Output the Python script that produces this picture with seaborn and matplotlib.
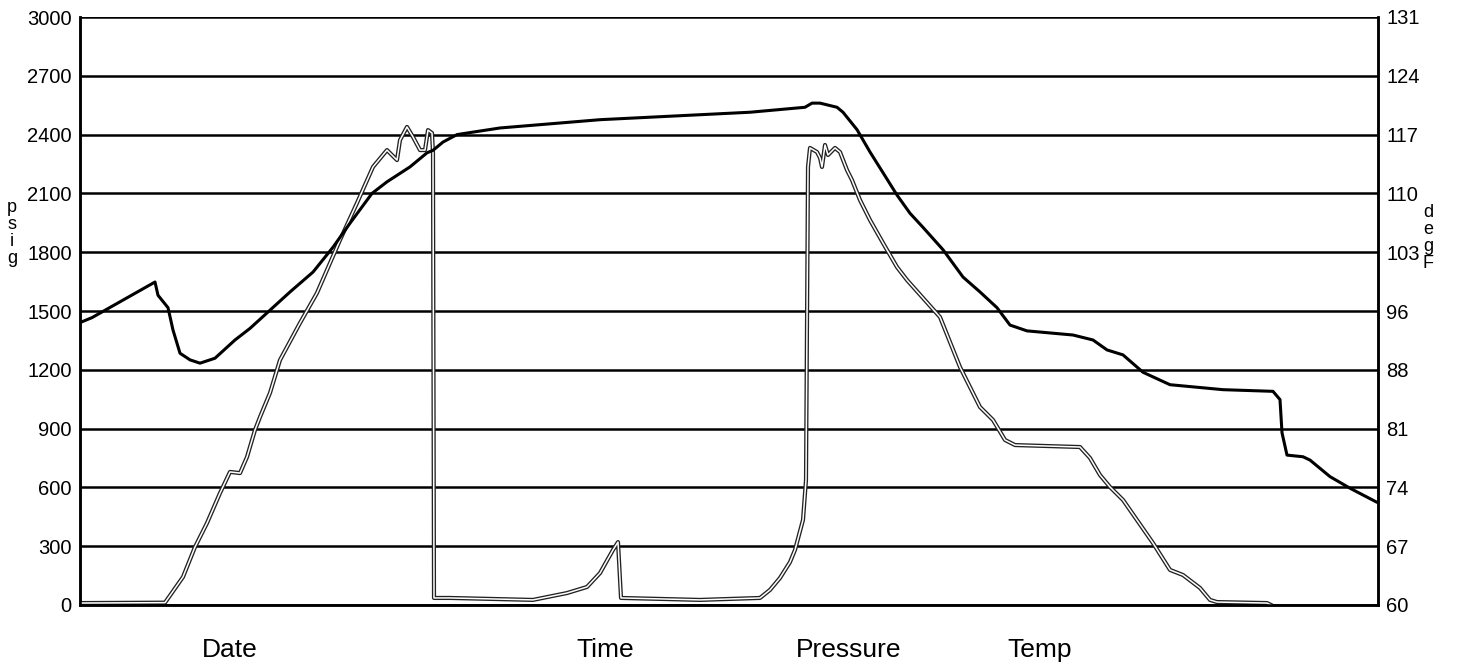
import matplotlib
matplotlib.use("Agg")
import matplotlib.pyplot as plt
import numpy as np
import pandas as pd
import seaborn as sns

# pressure trace (psig, left axis)
p_time = [80, 165, 183, 195, 207, 220, 230, 240, 247, 255, 260, 270, 280, 300, 317,
          340, 357, 373, 387, 397, 400, 407, 413, 420, 425, 428, 432, 433, 434, 450,
          533, 567, 587, 600, 613, 618, 621, 700, 760, 770, 780, 790, 795, 803, 806,
          808, 810, 817, 820, 822, 825, 828, 835, 840, 847, 852, 860, 870, 883, 897,
          907, 940, 960, 980, 993, 1005, 1015, 1080, 1090, 1100, 1110, 1123, 1153,
          1170, 1183, 1200, 1210, 1217, 1267, 1277, 1377]
p_psig = [10, 12, 143, 296, 418, 571, 679, 673, 755, 893, 959, 1082, 1250, 1439, 1592,
          1862, 2051, 2235, 2321, 2270, 2372, 2439, 2388, 2321, 2321, 2423, 2408, 2306, 36, 36,
          26, 61, 92, 163, 281, 321, 36, 26, 36, 77, 138, 219, 281, 434, 638,
          2235, 2332, 2311, 2281, 2235, 2347, 2296, 2332, 2311, 2219, 2168, 2066, 1964, 1847, 1724,
          1658, 1469, 1214, 1010, 944, 842, 816, 806, 750, 663, 602, 536, 316,
          179, 153, 87, 26, 15, 10, -15, -10]

# temperature trace (degF, right axis)
t_time = [80, 92, 155, 158, 168, 173, 180, 190, 200, 215, 235, 250, 270, 290, 313,
          333, 350, 372, 387, 410, 427, 433, 443, 457, 473, 500, 600, 750, 805, 812,
          820, 837, 843, 857, 870, 883, 897, 910, 923, 943, 963, 980, 997, 1010, 1027,
          1073, 1093, 1107, 1123, 1143, 1170, 1223, 1273, 1280, 1282, 1287, 1303, 1310,
          1330, 1350, 1377]
t_degf = [94.1, 94.7, 99.0, 97.4, 95.9, 93.2, 90.4, 89.6, 89.2, 89.8, 92.0, 93.4, 95.6, 97.8, 100.2,
          103.2, 106.1, 109.7, 111.1, 112.9, 114.6, 114.9, 115.9, 116.8, 117.1, 117.6, 118.6, 119.5, 120.1, 120.6,
          120.6, 120.1, 119.5, 117.4, 114.7, 112.2, 109.5, 107.3, 105.6, 102.9, 99.6, 97.8, 95.9, 93.8, 93.1,
          92.6, 92.0, 90.8, 90.2, 88.1, 86.6, 86.0, 85.8, 84.8, 80.8, 78.1, 77.9, 77.5,
          75.5, 74.1, 72.4]

psig_ticks = [0, 300, 600, 900, 1200, 1500, 1800, 2100, 2400, 2700, 3000]
degf_labels = ["60", "67", "74", "81", "88", "96", "103", "110", "117", "124", "131"]
bottom_labels = ["Date", "Time", "Pressure", "Temp"]
bottom_pos = [230, 605, 849, 1040]

sns.set_style("white")
plt.rcParams['font.family'] = ['Liberation Sans', 'DejaVu Sans']
plt.rcParams['text.color'] = 'black'
plt.rcParams['ytick.color'] = 'black'

pres = pd.DataFrame({"t": p_time, "psig": p_psig})
temp = pd.DataFrame({"t": t_time, "degF": t_degf})

fig = plt.figure(figsize=(14.59, 6.69), dpi=100)
ax = fig.add_axes([80 / 1459, 64 / 669, 1298 / 1459, 588 / 669])

ax.set_axisbelow(True)
for v in psig_ticks:
    ax.axhline(v, color="black", lw=1.8, zorder=0)

# hollow looking pressure line: dark outline, white core
sns.lineplot(data=pres, x="t", y="psig", ax=ax, color="#222222", lw=3.0,
             estimator=None, sort=False, zorder=2)
sns.lineplot(data=pres, x="t", y="psig", ax=ax, color="white", lw=1.1,
             estimator=None, sort=False, zorder=3)

ax.set_xlim(80, 1378)
ax.set_ylim(0, 3000)
ax.set_yticks(psig_ticks)
ax.set_yticklabels([str(v) for v in psig_ticks], fontsize=14.5, color="black")
ax.set_xticks([])
ax.set_xlabel("")
ax.set_ylabel("")
ax.tick_params(axis="y", length=0, pad=6)

ax2 = ax.twinx()
sns.lineplot(data=temp, x="t", y="degF", ax=ax2, color="black", lw=2.2,
             estimator=None, sort=False, zorder=4)
ax2.set_ylim(60, 131)
ax2.set_yticks(np.linspace(60, 131, 11))
ax2.set_yticklabels(degf_labels, fontsize=14.5, color="black")
ax2.tick_params(axis="y", length=0, pad=6)
ax2.set_ylabel("")
ax2.set_xlim(80, 1378)

for a in (ax, ax2):
    for s in ["left", "right", "bottom"]:
        a.spines[s].set_color("black")
        a.spines[s].set_linewidth(1.8)
    a.spines["top"].set_visible(False)

fig.text(12 / 1459, 1 - 233 / 669, "p\ns\ni\ng", fontsize=13, ha="center", va="center",
         linespacing=1.0, color="black")
fig.text(1428 / 1459, 1 - 238 / 669, "d\ne\ng\nF", fontsize=13, ha="center", va="center",
         linespacing=1.0, color="black")

for lab, xp in zip(bottom_labels, bottom_pos):
    fig.text(xp / 1459, 1 - 650 / 669, lab, fontsize=19, ha="center", va="center",
             color="black")

fig.savefig("out.png", dpi=100)
